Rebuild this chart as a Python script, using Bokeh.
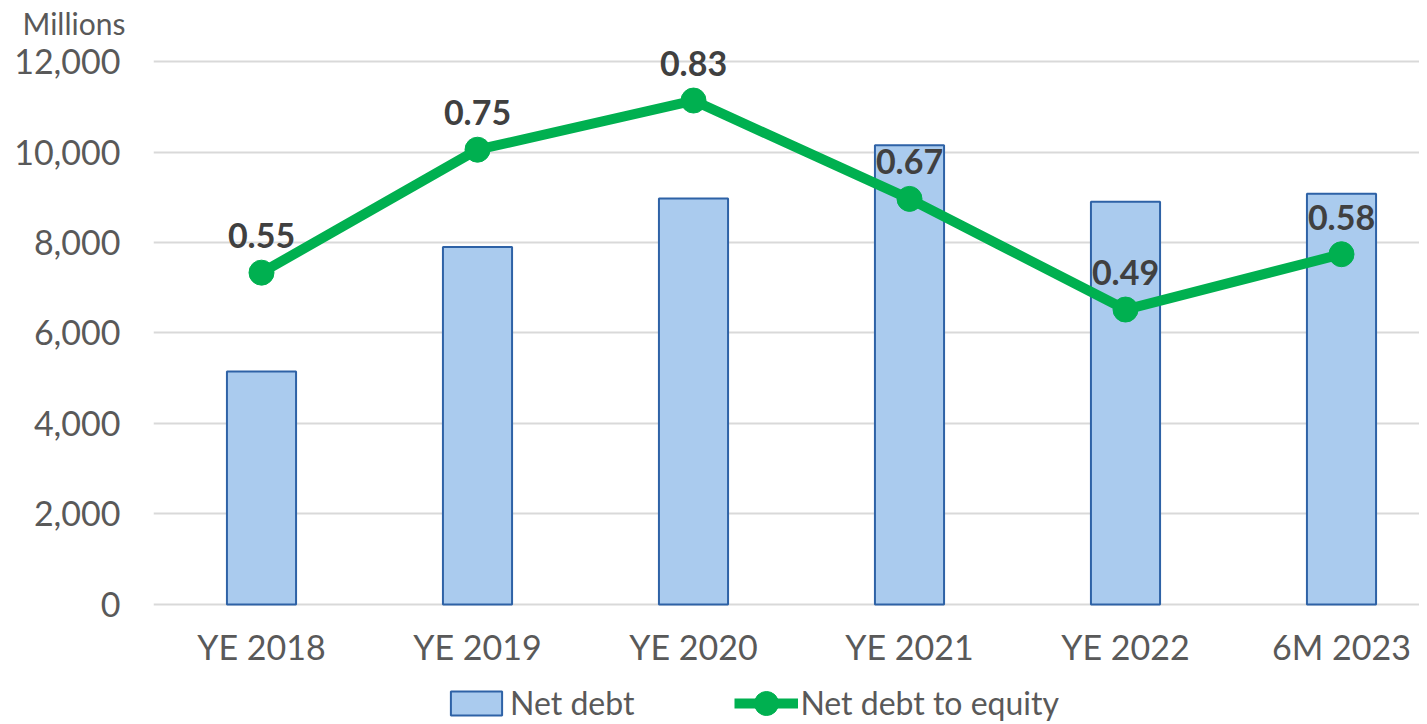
from bokeh.plotting import figure
from bokeh.models import Range1d, Legend, LegendItem, Title, ColumnDataSource, FixedTicker, NumeralTickFormatter
from bokeh.embed import file_html
from bokeh.resources import INLINE
from bokeh.core.properties import value

categories = ["YE 2018", "YE 2019", "YE 2020", "YE 2021", "YE 2022", "6M 2023"]
net_debt = [5150, 7900, 8970, 10150, 8900, 9080]
net_debt_to_equity = [0.55, 0.75, 0.83, 0.67, 0.49, 0.58]
ratio_labels = ["0.55", "0.75", "0.83", "0.67", "0.49", "0.58"]
y_ticks = [0, 2000, 4000, 6000, 8000, 10000, 12000]

FONT = "Lato"
xs = list(range(len(categories)))

p = figure(frame_width=1266, frame_height=680, output_backend="svg", toolbar_location=None,
           x_axis_location=None,
           x_range=Range1d(-0.5, -0.5 + 1266 / 216), y_range=Range1d(-2608, 12420),
           min_border_left=153, min_border_right=0, min_border_top=42, min_border_bottom=0)
p.extra_y_ranges = {"ratio": Range1d(-0.18175, 0.9244)}
p.outline_line_color = None
p.background_fill_color = "white"

src = ColumnDataSource(dict(x=xs, debt=net_debt, r=net_debt_to_equity, lab=ratio_labels,
                            cat=categories, zero=[0] * len(xs)))

bars = p.vbar(x="x", top="debt", bottom=0, width=0.32, source=src, fill_color="#AACBEE",
              line_color="#2E62A6", line_width=2)
line = p.line(x="x", y="r", source=src, y_range_name="ratio", line_color="#00B050", line_width=10)
pts = p.ellipse(x="x", y="r", source=src, y_range_name="ratio", width=25, height=25,
                width_units="screen", height_units="screen",
                fill_color="#00B050", line_color="#00B050")
p.text(x="x", y="r", text="lab", source=src, y_range_name="ratio", y_offset=-37,
       text_align="center", text_baseline="middle", text_font=value(FONT),
       text_font_style="bold", text_font_size="34px", text_color="#404040")

# category labels under the bars (x scale positions)
p.text(x="x", y="zero", text="cat", source=src, y_offset=42,
       text_align="center", text_baseline="middle", text_font=value(FONT),
       text_font_size="34px", text_color="#595959")

p.yaxis.ticker = FixedTicker(ticks=y_ticks)
p.yaxis.formatter = NumeralTickFormatter(format="0,0")
p.yaxis.axis_line_color = None
p.yaxis.major_tick_line_color = None
p.yaxis.minor_tick_line_color = None
p.yaxis.major_tick_out = 0
p.yaxis.major_tick_in = 0
p.yaxis.minor_tick_out = 0
p.yaxis.major_label_text_font = FONT
p.yaxis.major_label_text_color = "#595959"
p.yaxis.major_label_text_font_size = "34px"
p.yaxis.major_label_standoff = 33

p.xgrid.grid_line_color = None
p.ygrid.grid_line_color = "#D9D9D9"
p.ygrid.grid_line_width = 2
p.ygrid.ticker = FixedTicker(ticks=y_ticks)

p.add_layout(Title(text="Millions", align="left", offset=-131, standoff=4,
                   text_font=FONT, text_font_size="30px", text_color="#595959",
                   text_font_style="normal"), "above")

legend = Legend(items=[LegendItem(label="Net debt", renderers=[bars]),
                       LegendItem(label="Net debt to equity", renderers=[line, pts])],
                orientation="horizontal", location=(291, 0), border_line_color=None,
                background_fill_alpha=0,
                label_text_font=FONT, label_text_font_size="32px", label_text_color="#595959",
                glyph_width=64, glyph_height=30, label_standoff=2, spacing=100,
                padding=0, margin=0)
p.add_layout(legend)

open("out.html", "w").write(file_html(p, INLINE))
